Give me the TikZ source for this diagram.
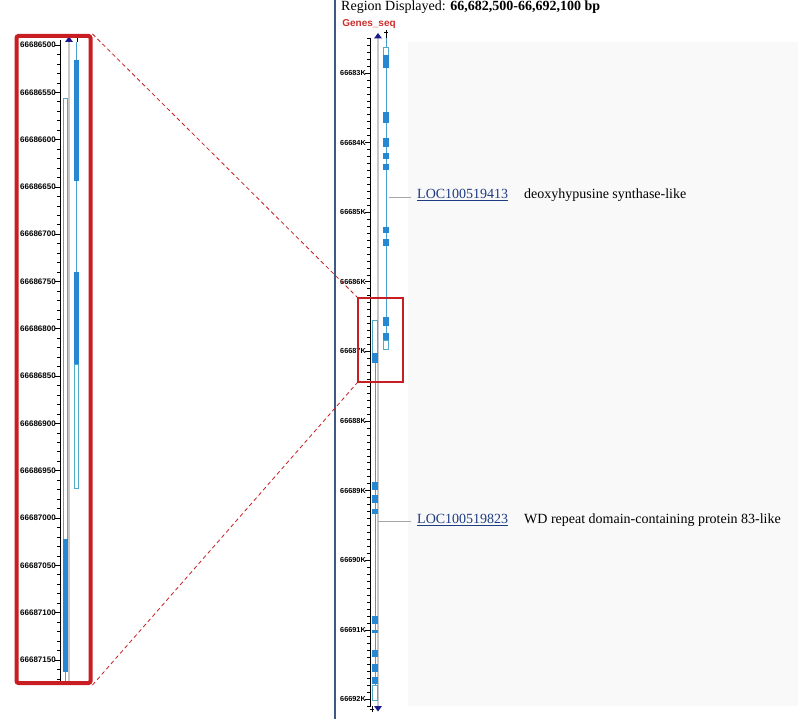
\documentclass[tikz,border=0pt]{standalone}
\usepackage{fontspec}
\setmainfont{Liberation Serif}
\newfontfamily\tickfont{Liberation Sans}
\definecolor{exonblue}{RGB}{38,135,210}
\definecolor{geneline}{RGB}{70,160,210}
\definecolor{utrline}{RGB}{80,170,200}
\definecolor{trackgrey}{RGB}{200,200,200}
\definecolor{navyc}{RGB}{25,25,140}
\definecolor{boxred}{RGB}{200,30,35}
\definecolor{linkblue}{RGB}{30,60,130}
\definecolor{panelline}{RGB}{60,90,130}
\definecolor{genesred}{RGB}{205,45,45}
\definecolor{bggrey}{RGB}{249,249,249}
\begin{document}
\begin{tikzpicture}[x=1pt,y=-1pt,
  exon/.style={fill=exonblue,draw=none},
  utr/.style={draw=utrline,fill=white,line width=0.9},
  gline/.style={draw=geneline,line width=0.8},
  track/.style={draw=trackgrey,line width=1.6},
  axisline/.style={draw=black,line width=0.6},
  ticklab/.style={font=\tickfont\bfseries\fontsize{7.3}{8}\selectfont,inner sep=0pt,anchor=east},
  tickleft/.style={font=\tickfont\bfseries\fontsize{8}{9}\selectfont,inner sep=0pt,anchor=east},
  labline/.style={draw=gray!70,line width=0.6},
  linktext/.style={font=\fontsize{14}{16}\selectfont,text=linkblue,inner sep=0pt,anchor=west},
  desctext/.style={font=\fontsize{14}{16}\selectfont,inner sep=0pt,anchor=west},
  navytri/.style={fill=navyc,draw=none},
  zoomdash/.style={draw=boxred,line width=0.8,dash pattern=on 4pt off 3pt}
]
\useasboundingbox (0,0) rectangle (798,719);
\fill[white] (0,0) rectangle (798,719);
\fill[bggrey] (408,42) rectangle (798,706);

% ---------- right panel ----------
\draw[panelline,line width=1.5] (335,0) -- (335,719);
\node[font=\fontsize{14}{16}\selectfont,inner sep=0pt,anchor=west] (title) at (341,7)
  {Region Displayed: \textbf{66,682,500-66,692,100 bp}};
\node[font=\tickfont\bfseries\fontsize{10}{11}\selectfont,text=genesred,inner sep=0pt] (genes) at (369,24) {Genes\_seq};

% ruler right
\draw[axisline] (370,38) -- (370,707);
\foreach \i in {0,...,96}{
  \pgfmathsetmacro\yy{38.2+\i*6.96}
  \pgfmathtruncatemacro\m{mod(\i+5,10)}
  \ifnum\m=0
    \draw[axisline] (365,\yy) -- (370,\yy);
  \else
    \draw[axisline] (367,\yy) -- (370,\yy);
  \fi
}
\foreach \lab [count=\k from 0] in {66683K,66684K,66685K,66686K,66687K,66688K,66689K,66690K,66691K,66692K}
  \node[ticklab] at (366,{73+\k*69.6}) {\lab};

% grey track + arrows
\draw[track] (378,38) -- (378,706);
\fill[navytri] (374,38.5) -- (378,33) -- (382,38.5) -- cycle;
\fill[navytri] (374,706) -- (378,711.5) -- (382,706) -- cycle;
\draw[black,line width=0.6] (386,30) -- (386,38) (384.3,32) -- (387.7,32);
\draw[black,line width=0.6] (372,706) -- (372,712) (370.3,709) -- (373.7,709);

% gene A (LOC100519413)
\draw[gline] (386,38) -- (386,349);
\draw[utr] (383.8,47) rectangle (388.2,55);
\foreach \a/\b in {55/68,112/123,138/147,153/159,164/170,227/233,239/246,317/326,333/340}
  \fill[exon] (383.3,\a) rectangle (388.7,\b);
\draw[utr] (383.8,340) rectangle (388.2,349);

% gene B (LOC100519823)
\draw[gline] (375,320) -- (375,700);
\draw[utr] (372.8,320) rectangle (377.2,353);
\foreach \a/\b in {353/363,482/490,495/503,509/514,616/624,630/633,650/657,664/672,677/684}
  \fill[exon] (372.3,\a) rectangle (377.7,\b);
\draw[utr] (372.8,685) rectangle (377.2,700);

% labels
\node[linktext] (locA) at (417,195) {\underline{LOC100519413}};
\node[desctext] (descA) at (524,195) {deoxyhypusine synthase-like};
\node[linktext] (locB) at (417,520) {\underline{LOC100519823}};
\node[desctext] (descB) at (524,520) {WD repeat domain-containing protein 83-like};
\coordinate (ga) at (388.5,197);
\coordinate (gb) at (378,521);
\draw[labline,shorten >=6pt] (ga) -- (ga -| locA.west);
\draw[labline,shorten >=6pt] (gb) -- (gb -| locB.west);

% selection box
\node[draw=boxred,line width=1.8,minimum width=45pt,minimum height=84pt,inner sep=0pt] (selbox) at (380.5,340) {};

% ---------- left zoom panel ----------
\draw[axisline] (60,40) -- (60,681);
\foreach \i in {0,...,67}{
  \pgfmathsetmacro\yy{45+\i*9.46}
  \pgfmathtruncatemacro\m{mod(\i,5)}
  \ifnum\m=0
    \draw[axisline] (55,\yy) -- (60,\yy);
  \else
    \draw[axisline] (57,\yy) -- (60,\yy);
  \fi
}
\foreach \lab [count=\k from 0] in {66686500,66686550,66686600,66686650,66686700,66686750,66686800,66686850,66686900,66686950,66687000,66687050,66687100,66687150}
  \node[tickleft] at (56,{45+\k*47.3}) {\lab};

\draw[track] (69,42) -- (69,684);
\fill[navytri] (65,42) -- (69,36.5) -- (73,42) -- cycle;
\draw[black,line width=0.6] (77,35) -- (77,42) (75.3,37) -- (78.7,37);

% gene A zoomed
\draw[gline] (76.5,42) -- (76.5,364);
\fill[exon] (74,60) rectangle (79,181);
\fill[exon] (74,272) rectangle (79,364);
\draw[utr] (74.3,364) rectangle (78.7,488);

% gene B zoomed
\draw[utr] (63.2,98) rectangle (67.2,539);
\fill[exon] (63,539) rectangle (67.5,672);
\draw[gline] (65.2,672) -- (65.2,684);

\node[draw=boxred,line width=4,rounded corners=2pt,minimum width=74pt,minimum height=647pt,inner sep=0pt] (zoombox) at (53.5,359.5) {};

% zoom connectors
\draw[zoomdash] (zoombox.north east) -- (selbox.north west);
\draw[zoomdash] (zoombox.south east) -- (selbox.south west);
\end{tikzpicture}
\end{document}
